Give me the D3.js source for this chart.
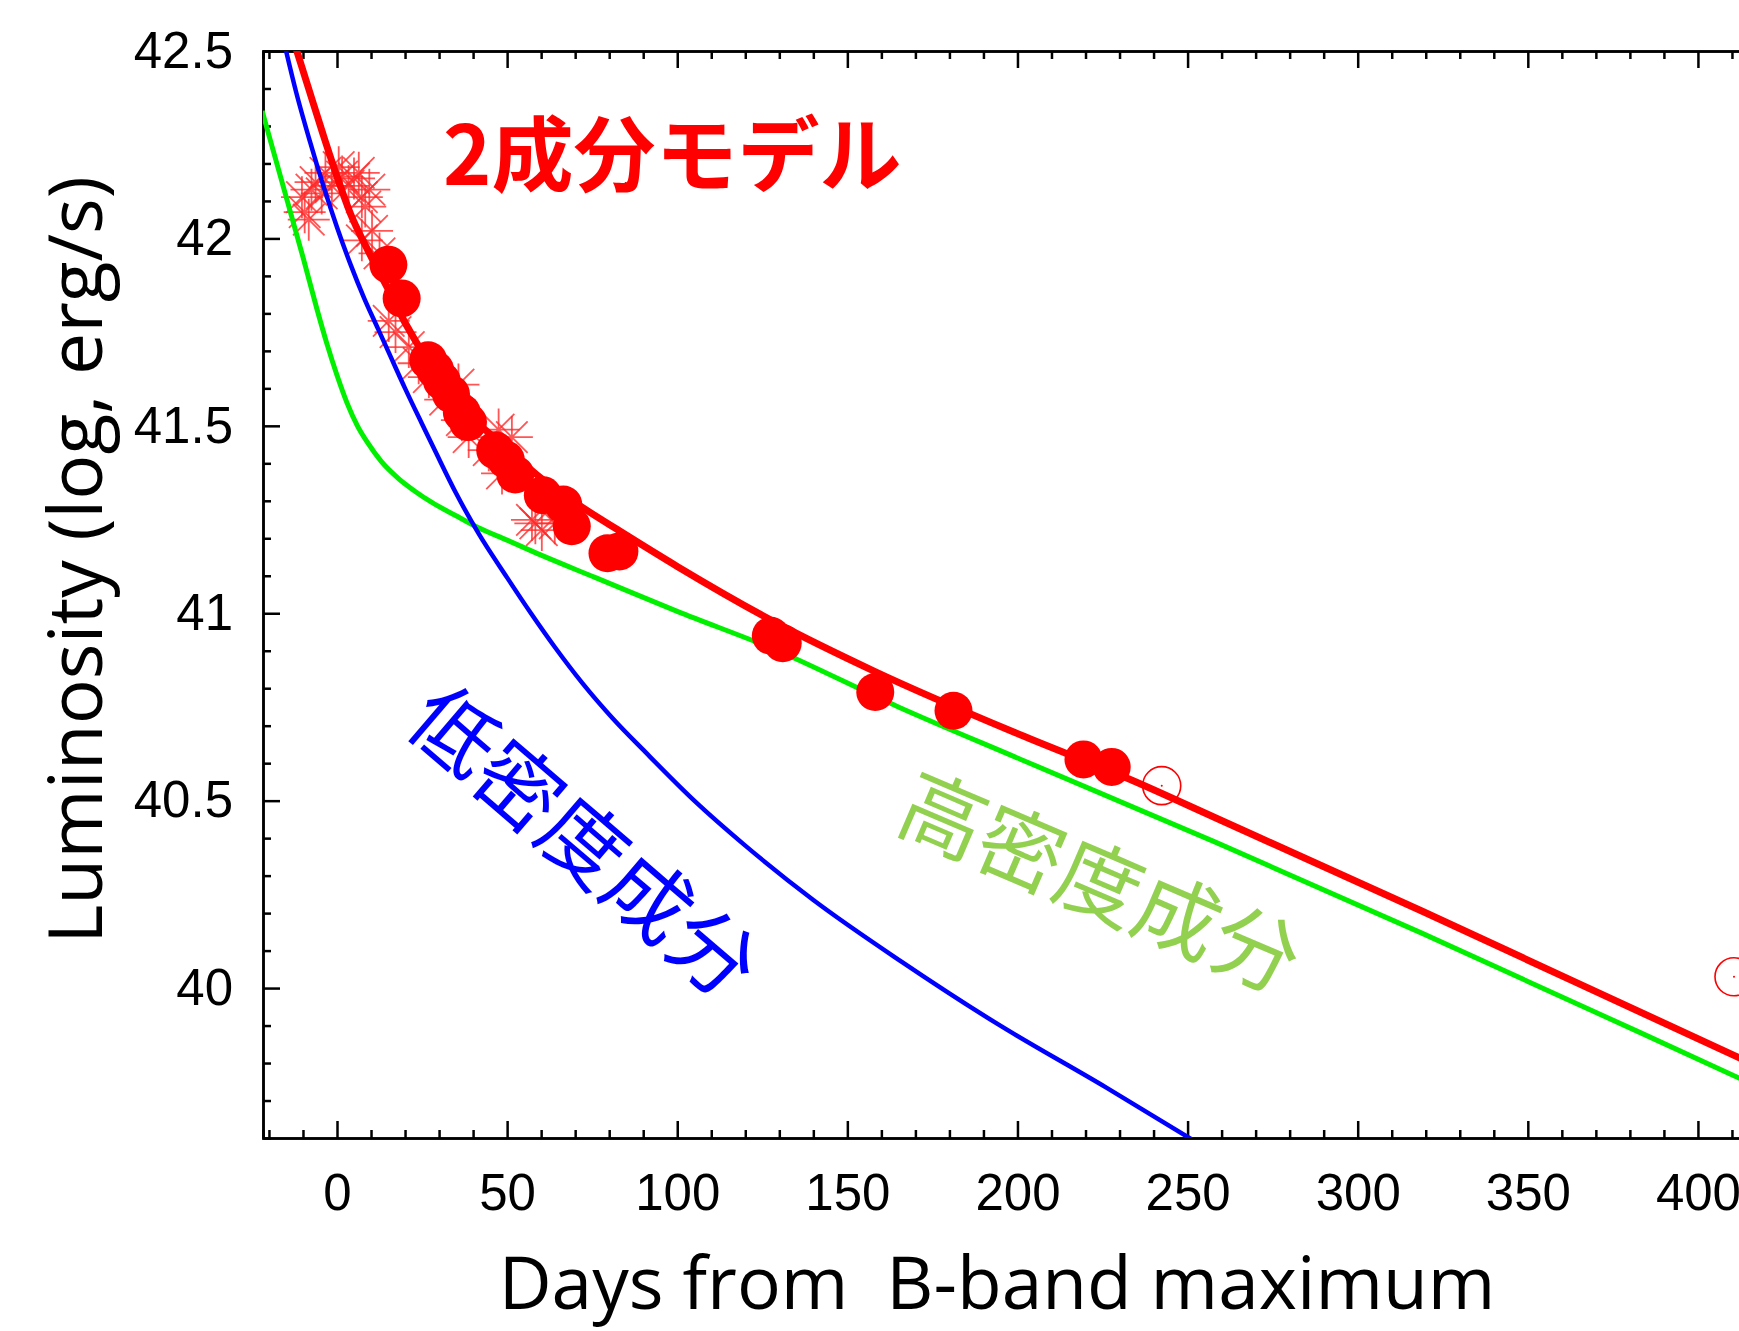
<!DOCTYPE html>
<html>
<head>
<meta charset="utf-8">
<script src="https://cdn.jsdelivr.net/npm/d3@7"></script>
<style>
  body { margin: 0; background: #fff; }
  .axis path, .axis line { stroke: #000; stroke-width: 2.5; }
  .axis text { font-family: "Liberation Sans", Arial, sans-serif; font-size: 51px; fill: #000; }
  .title { font-family: "Open Sans", "Noto Sans", sans-serif; fill: #000; white-space: pre; }
  .note { font-family: "Noto Sans CJK JP", sans-serif; }
</style>
</head>
<body>
<div class="chart"></div>
<script>
var svgWidth = 1739;
var svgHeight = 1331;

var margin = { top: 51, left: 263 };
var width = 1537;
var height = 1087;

// tick values
var xMajor = [0, 50, 100, 150, 200, 250, 300, 350, 400];
var xMinor = d3.range(-20, 431, 10).filter(d => d % 50 !== 0);
var yMajor = [40, 40.5, 41, 41.5, 42, 42.5];
var yMinor = d3.range(397, 425).map(d => d / 10).filter(d => Math.round(d * 10) % 5 !== 0);

// model curves: [days, log L]
var lowDensity = [
  [-16, 42.54], [-12, 42.39], [-8, 42.26], [-4, 42.14], [0, 42.03], [4, 41.93],
  [8, 41.84], [12, 41.76], [15, 41.70], [20, 41.60], [25, 41.505], [29, 41.43],
  [35, 41.32], [41.6, 41.213], [50, 41.095], [57, 41.0], [64, 40.91], [72, 40.815],
  [81, 40.72], [90.6, 40.63], [105, 40.50], [120, 40.38], [140, 40.235], [166, 40.07],
  [194, 39.905], [226, 39.735], [256, 39.57]
];
var highDensity = [
  [-22, 42.34], [-18, 42.21], [-14, 42.08], [-10, 41.95], [-6, 41.815], [-3, 41.72],
  [0, 41.635], [3, 41.56], [6, 41.50], [9, 41.455], [13, 41.405], [18, 41.36],
  [23, 41.325], [28, 41.295], [35, 41.26], [41.6, 41.228], [50, 41.195], [60, 41.155],
  [76, 41.095], [100, 41.005], [129, 40.902], [165, 40.75], [201, 40.61], [258, 40.39],
  [319, 40.146], [411.4, 39.763], [435, 39.665]
];
var twoComponent = [
  [-12.5, 42.52], [-8, 42.39], [-4, 42.275], [0, 42.165], [4, 42.065], [9.2, 41.966],
  [15, 41.865], [20, 41.775], [27, 41.67], [33, 41.595], [40, 41.52], [50, 41.44],
  [60, 41.36], [71, 41.289], [83, 41.22], [100, 41.125], [129, 40.975], [158, 40.845],
  [201, 40.675], [233.5, 40.555], [258, 40.455], [319, 40.205], [411.4, 39.817], [435, 39.72]
];

// observations
var starPoints = [
  [-10.3, 42.11], [-9.5, 42.07], [-8.3, 42.05], [-7.5, 42.13], [-6.3, 42.15], [-4.5, 42.12],
  [-3.4, 42.175], [-1.5, 42.14], [0.5, 42.19], [1.5, 42.165], [3.4, 42.14], [5, 42.16],
  [6.4, 42.175], [7.3, 42.11], [8.3, 42.085], [9.5, 42.13], [10.3, 42.02], [7.3, 41.995],
  [12.5, 41.96], [15.2, 41.78], [17.2, 41.75], [21.1, 41.71], [24, 41.667], [27, 41.63],
  [31.8, 41.57], [35.7, 41.61], [36.7, 41.515], [38.7, 41.47], [44.6, 41.435], [47.5, 41.49],
  [48.5, 41.373], [51.4, 41.47], [57.3, 41.249], [58.3, 41.24], [60.2, 41.222], [64, 41.24]
];
var filledPoints = [
  [15.1, 41.93], [19.0, 41.84], [26.8, 41.675], [28.8, 41.65], [30.8, 41.62], [33.5, 41.585],
  [36.7, 41.535], [38.5, 41.51], [46.5, 41.435], [49.6, 41.41], [52.4, 41.37], [60.5, 41.315],
  [66.5, 41.29], [69, 41.232], [79.5, 41.16], [83, 41.165], [127.5, 40.94], [131, 40.92],
  [158.2, 40.79], [181.2, 40.74], [219.4, 40.61], [227.7, 40.59]
];
var openPoints = [[242.4, 40.54], [410.6, 40.03]];

var svg = d3.select(".chart")
  .append("svg")
  .attr("width", svgWidth)
  .attr("height", svgHeight);

var chartGroup = svg.append("g")
  .attr("transform", `translate(${margin.left}, ${margin.top})`);

var x = d3.scaleLinear().domain([-21.75, 430]).range([0, width]);
var y = d3.scaleLinear().domain([39.6, 42.5]).range([height, 0]);

svg.append("defs").append("clipPath").attr("id", "plot")
  .append("rect").attr("width", width).attr("height", height);

// axes, ticks pointing inward
chartGroup.append("g").attr("class", "axis")
  .attr("transform", `translate(0, ${height})`)
  .call(d3.axisBottom(x).tickValues(xMajor).tickSizeInner(-17).tickSizeOuter(0).tickPadding(36));
chartGroup.append("g").attr("class", "axis")
  .attr("transform", `translate(0, ${height})`)
  .call(d3.axisBottom(x).tickValues(xMinor).tickSize(-8).tickFormat(""));
chartGroup.append("g").attr("class", "axis")
  .call(d3.axisTop(x).tickValues(xMajor).tickSizeInner(-17).tickSizeOuter(0).tickFormat(""));
chartGroup.append("g").attr("class", "axis")
  .call(d3.axisTop(x).tickValues(xMinor).tickSize(-8).tickFormat(""));
chartGroup.append("g").attr("class", "axis")
  .call(d3.axisLeft(y).tickValues(yMajor).tickSizeInner(-17).tickSizeOuter(0).tickPadding(30).tickFormat(d => String(d)));
chartGroup.append("g").attr("class", "axis")
  .call(d3.axisLeft(y).tickValues(yMinor).tickSize(-8).tickFormat(""));

var plot = chartGroup.append("g").attr("clip-path", "url(#plot)");

var s = 21;
plot.selectAll(".star")
  .data(starPoints)
  .enter()
  .append("path")
  .attr("class", "star")
  .attr("transform", d => `translate(${x(d[0])}, ${y(d[1])})`)
  .attr("d", `M${-s},0H${s}M0,${-s}V${s}M${-s * 0.75},${-s * 0.75}L${s * 0.75},${s * 0.75}M${-s * 0.75},${s * 0.75}L${s * 0.75},${-s * 0.75}`)
  .attr("stroke", "#ff2a2a")
  .attr("stroke-opacity", 0.8)
  .attr("stroke-width", 1.8)
  .attr("fill", "none");

var line = d3.line()
  .x(d => x(d[0]))
  .y(d => y(d[1]))
  .curve(d3.curveMonotoneX);

plot.append("path").datum(highDensity)
  .attr("d", line).attr("fill", "none").attr("stroke", "#00f000").attr("stroke-width", 5);
plot.append("path").datum(lowDensity)
  .attr("d", line).attr("fill", "none").attr("stroke", "#0000ff").attr("stroke-width", 4.5);
plot.append("path").datum(twoComponent)
  .attr("d", line).attr("fill", "none").attr("stroke", "#ff0000").attr("stroke-width", 7);

plot.selectAll(".dot")
  .data(filledPoints)
  .enter()
  .append("circle")
  .attr("class", "dot")
  .attr("cx", d => x(d[0]))
  .attr("cy", d => y(d[1]))
  .attr("r", 19)
  .attr("fill", "#ff0000");

plot.selectAll(".open")
  .data(openPoints)
  .enter()
  .append("circle")
  .attr("class", "open")
  .attr("cx", d => x(d[0]))
  .attr("cy", d => y(d[1]))
  .attr("r", 19)
  .attr("fill", "none")
  .attr("stroke", "#ff0000")
  .attr("stroke-width", 1.6);

plot.selectAll(".opendot")
  .data(openPoints)
  .enter()
  .append("circle")
  .attr("cx", d => x(d[0]))
  .attr("cy", d => y(d[1]))
  .attr("r", 1)
  .attr("fill", "#ff0000");

// annotations
svg.append("text")
  .attr("class", "note")
  .attr("x", 443)
  .attr("y", 185)
  .attr("font-size", 82)
  .attr("font-weight", "bold")
  .attr("fill", "#ff0000")
  .text("2成分モデル");

svg.append("text")
  .attr("class", "note")
  .attr("transform", "translate(583, 843) rotate(40.6)")
  .attr("text-anchor", "middle")
  .attr("dy", "0.35em")
  .attr("font-size", 85)
  .attr("fill", "#0000ff")
  .text("低密度成分");

svg.append("text")
  .attr("class", "note")
  .attr("transform", "translate(1099, 884) rotate(23.2)")
  .attr("text-anchor", "middle")
  .attr("dy", "0.35em")
  .attr("font-size", 85)
  .attr("fill", "#92d050")
  .text("高密度成分");

// axis titles
svg.append("text")
  .attr("class", "title")
  .attr("transform", "translate(102, 560) rotate(-90)")
  .attr("text-anchor", "middle")
  .attr("font-size", 75)
  .text("Luminosity (log, erg/s)");

svg.append("text")
  .attr("class", "title")
  .attr("x", 997)
  .attr("y", 1309)
  .attr("text-anchor", "middle")
  .attr("font-size", 73)
  .attr("xml:space", "preserve")
  .text("Days from  B-band maximum");
</script>
</body>
</html>
